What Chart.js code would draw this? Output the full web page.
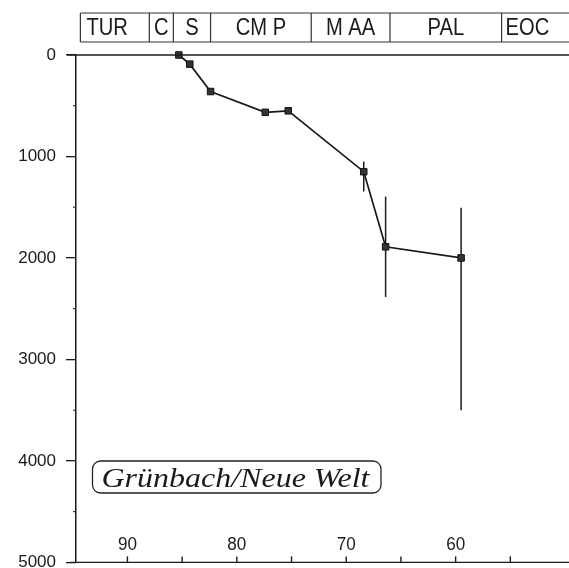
<!DOCTYPE html>
<html>
<head>
<meta charset="utf-8">
<script src="https://cdn.jsdelivr.net/npm/chart.js@4.4.1/dist/chart.umd.min.js"></script>
<style>
  html, body { margin: 0; padding: 0; background: #fff; }
  #wrap { width: 569px; height: 568px; }
</style>
</head>
<body>
<div id="wrap"><canvas id="burial" width="569" height="568"></canvas></div>
<script>
// burial curve, age in Ma vs depth in m
const ageMa = [85.3, 84.3, 82.4, 77.4, 75.3, 68.4, 66.4, 59.5];
const depthM = [0, 90, 360, 565, 550, 1150, 1890, 2000];
const depthLow = [null, null, null, null, null, 1050, 1395, 1505];
const depthHigh = [null, null, null, null, null, 1345, 2385, 3500];

// stratigraphic stages (bounds in Ma, old -> young)
const stageNames = ['TUR', 'C', 'S', 'CM P', 'M AA', 'PAL', 'EOC'];
const stageBounds = [94.3, 88.0, 85.8, 82.4, 73.2, 66.0, 55.8, 45];

const ageTicks = [90, 85, 80, 75, 70, 65, 60, 55];
const ageLabels = [90, 80, 70, 60];
const depthTicks = [0, 1000, 2000, 3000, 4000, 5000];
const depthMinor = [500, 1500, 2500, 3500, 4500];
const siteName = 'Grünbach/Neue Welt';

const ink = '#1a1a1a';

const squished = (ctx, text, x, y, align, sx) => {
  ctx.save();
  const w = ctx.measureText(text).width * sx;
  let x0 = x;
  if (align === 'center') x0 = x - w / 2;
  ctx.translate(x0, y);
  ctx.scale(sx, 1);
  ctx.textAlign = 'left';
  ctx.fillText(text, 0, 0);
  ctx.restore();
};

const decorPlugin = {
  id: 'decor',
  beforeDatasetsDraw(chart) {
    const { ctx, scales: { x, y } } = chart;
    // error bars
    ctx.save();
    ctx.strokeStyle = ink;
    ctx.lineWidth = 1.5;
    ageMa.forEach((a, i) => {
      if (depthLow[i] === null) return;
      const px = x.getPixelForValue(a);
      ctx.beginPath();
      ctx.moveTo(px, y.getPixelForValue(depthLow[i]));
      ctx.lineTo(px, y.getPixelForValue(depthHigh[i]));
      ctx.stroke();
    });
    ctx.restore();
  },
  afterDraw(chart) {
    const { ctx, chartArea, scales: { x, y } } = chart;
    const W = chart.width;
    ctx.save();
    ctx.strokeStyle = ink;
    ctx.fillStyle = ink;

    // top line at depth 0
    ctx.lineWidth = 1.5;
    const y0 = y.getPixelForValue(0);
    ctx.beginPath();
    ctx.moveTo(67, y0);
    ctx.lineTo(W, y0);
    ctx.stroke();

    // minor depth ticks
    ctx.lineWidth = 1;
    depthMinor.forEach(d => {
      const py = y.getPixelForValue(d);
      ctx.beginPath();
      ctx.moveTo(chartArea.left - 3, py);
      ctx.lineTo(chartArea.left, py);
      ctx.stroke();
    });

    // age axis along the bottom, ticks pointing up
    ctx.lineWidth = 1.4;
    const yb = chartArea.bottom;
    ctx.beginPath();
    ctx.moveTo(70, yb);
    ctx.lineTo(W, yb);
    ctx.stroke();
    ageTicks.forEach(a => {
      const px = x.getPixelForValue(a);
      ctx.beginPath();
      ctx.moveTo(px, yb);
      ctx.lineTo(px, yb - 6);
      ctx.stroke();
    });
    ctx.font = '18px "Liberation Sans", Arial, sans-serif';
    ctx.textBaseline = 'alphabetic';
    ageLabels.forEach(a => {
      squished(ctx, String(a), x.getPixelForValue(a), yb - 12, 'center', 0.95);
    });

    // stage boxes
    const top = 13, bot = 42;
    ctx.lineWidth = 1.2;
    ctx.strokeStyle = '#333';
    const xl = x.getPixelForValue(stageBounds[0]);
    ctx.beginPath();
    ctx.moveTo(xl, top); ctx.lineTo(W, top);
    ctx.moveTo(xl, bot); ctx.lineTo(W, bot);
    ctx.stroke();
    ctx.font = '24px "Liberation Sans", Arial, sans-serif';
    stageNames.forEach((name, i) => {
      const a = x.getPixelForValue(stageBounds[i]);
      const b = x.getPixelForValue(stageBounds[i + 1]);
      ctx.beginPath();
      ctx.moveTo(a, top); ctx.lineTo(a, bot);
      ctx.stroke();
      if (i === 0) squished(ctx, name, a + 6, 35, 'left', 0.84);
      else if (i === stageNames.length - 1) squished(ctx, name, a + 4, 35, 'left', 0.84);
      else squished(ctx, name, (a + b) / 2, 35, 'center', 0.84);
    });

    // site label
    ctx.strokeStyle = '#222';
    ctx.lineWidth = 1.3;
    ctx.beginPath();
    ctx.roundRect(92.5, 461, 288.5, 32, 8);
    ctx.stroke();
    ctx.font = 'italic 28px "Liberation Serif", "Times New Roman", serif';
    const tw = ctx.measureText(siteName).width;
    squished(ctx, siteName, 101.5, 487, 'left', 268 / tw);

    ctx.restore();
  }
};

const ctx = document.getElementById('burial').getContext('2d');
new Chart(ctx, {
  type: 'line',
  data: {
    datasets: [{
      data: ageMa.map((a, i) => ({ x: a, y: depthM[i] })),
      borderColor: ink,
      borderWidth: 1.7,
      pointStyle: 'rect',
      pointRadius: 4.6,
      pointBackgroundColor: '#333',
      pointBorderColor: '#111',
      pointBorderWidth: 1,
      tension: 0,
      clip: false
    }]
  },
  options: {
    responsive: false,
    animation: false,
    devicePixelRatio: 1,
    layout: { padding: { top: 55, bottom: 5, left: 0, right: 0 } },
    plugins: { legend: { display: false }, tooltip: { enabled: false } },
    scales: {
      x: {
        type: 'linear',
        display: false,
        reverse: true,
        min: 50.15,
        max: 94.7
      },
      y: {
        type: 'linear',
        reverse: true,
        min: 0,
        max: 5000,
        afterBuildTicks: s => { s.ticks = depthTicks.map(v => ({ value: v })); },
        afterFit: s => { s.width = 76; s.paddingTop = 0; s.paddingBottom = 0; },
        ticks: {
          color: ink,
          font: { family: '"Liberation Sans", Arial, sans-serif', size: 17 },
          padding: 10,
          callback: v => String(v)
        },
        grid: { drawOnChartArea: false, tickLength: 10, color: ink, lineWidth: 1.3 },
        border: { display: true, color: ink, width: 1.5 }
      }
    }
  },
  plugins: [decorPlugin]
});
</script>
</body>
</html>
